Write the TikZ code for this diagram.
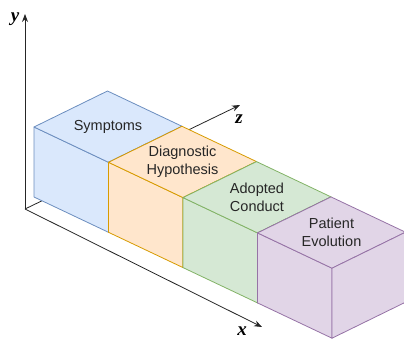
\documentclass[tikz,border=0pt]{standalone}
\usepackage{fontspec}
\setmainfont{Liberation Sans}
\newfontfamily\axisfont{Liberation Serif}
\usetikzlibrary{arrows.meta}

\definecolor{symfill}{HTML}{DAE8FC}
\definecolor{symdraw}{HTML}{6C8EBF}
\definecolor{hypfill}{HTML}{FFE6CC}
\definecolor{hypdraw}{HTML}{D79B00}
\definecolor{condfill}{HTML}{D5E8D4}
\definecolor{conddraw}{HTML}{82B366}
\definecolor{evofill}{HTML}{E1D5E7}
\definecolor{evodraw}{HTML}{9673A6}

\begin{document}
\begin{tikzpicture}[x={(74.5pt,-35.3pt)},y={(0pt,70pt)},z={(73.5pt,36pt)},
    axis/.style={draw=black!85,line width=0.8pt,-{Stealth[length=8pt,width=6pt]}},
    axislabel/.style={font=\axisfont\bfseries\itshape\fontsize{19}{19}\selectfont},
    face/.style={line width=0.8pt,line join=round},
    boxlabel/.style={align=center,text=black!85,font=\fontsize{14.5}{18}\selectfont}]

      \useasboundingbox (-25pt,-131pt) rectangle (379pt,209pt);

      % axes
      \coordinate (o) at (0pt,0pt);
      \coordinate (xend) at (237pt,-118pt);
      \coordinate (yend) at (0pt,195pt);
      \coordinate (zend) at (215pt,104pt);

      \path[axis] (o) -- (zend);

      % the four boxes
      \begin{scope}[shift={(9pt,12pt)}]
        \foreach \i/\c in {0/sym,1/hyp,2/cond,3/evo} {
          \filldraw[face,fill=\c fill,draw=\c draw]
            (\i,0,0) -- (\i+1,0,0) -- (\i+1,1,0) -- (\i,1,0) -- cycle;
          \filldraw[face,fill=\c fill,draw=\c draw]
            (\i,1,0) -- (\i+1,1,0) -- (\i+1,1,1) -- (\i,1,1) -- cycle;
          \filldraw[face,fill=\c fill,draw=\c draw]
            (\i+1,0,0) -- (\i+1,0,1) -- (\i+1,1,1) -- (\i+1,1,0) -- cycle;
        }

        \begin{scope}[every node/.style={boxlabel}]
          \node (symptoms)   at (0.5,1,0.5) {Symptoms};
          \node (hypothesis) at (1.5,1,0.5) {Diagnostic\\Hypothesis};
          \node (conduct)    at (2.5,1,0.5) {Adopted\\Conduct};
          \node (evolution)  at (3.5,1,0.5) {Patient\\Evolution};
        \end{scope}
      \end{scope}

      \path[axis] (o) -- (xend);
      \path[axis] (o) -- (yend);

      \begin{scope}[every node/.style={axislabel}]
        \node (xlabel) at (217pt,-122pt) {x};
        \node (ylabel) at (-10pt,190pt) {y};
        \node (zlabel) at (214pt,90pt) {z};
      \end{scope}

    \end{tikzpicture}
\end{document}
